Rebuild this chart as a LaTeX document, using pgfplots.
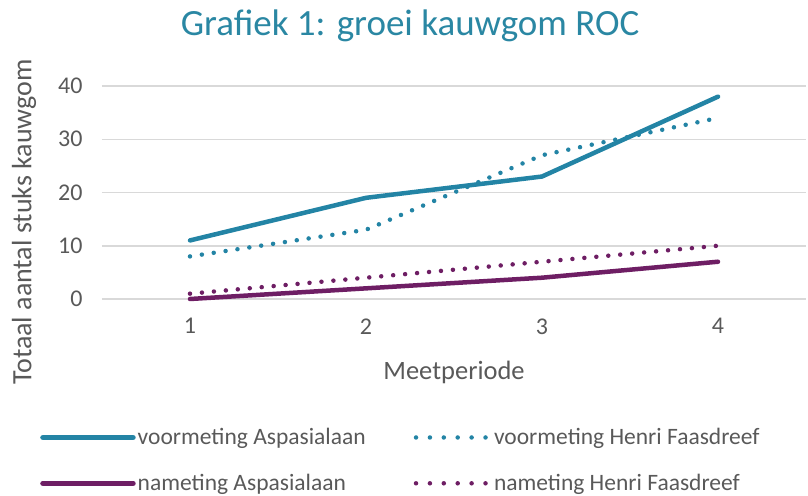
\documentclass[border=0pt]{standalone}
\usepackage{pgfplots}
\pgfplotsset{compat=1.18}
\usepackage{fontspec}
\setmainfont{Carlito}
\definecolor{teal1}{RGB}{35,132,165}
\definecolor{titlec}{RGB}{42,135,163}
\definecolor{purp}{RGB}{110,30,100}
\definecolor{txt}{RGB}{89,89,89}
\definecolor{gridc}{RGB}{217,217,217}
\pgfplotsset{
  solidleg/.style={legend image code/.code={\draw[##1, line width=5.5pt] (0pt,0pt) -- (90pt,0pt);}},
  dotleg/.style={legend image code/.code={\draw[##1, dash pattern=on 0pt off 13.9pt] (0pt,0pt) -- (70pt,0pt); \path[draw=none, fill=none] (0pt,0pt) rectangle (76pt,0.1pt);}},
}
\begin{document}
\begin{tikzpicture}
\begin{axis}[
  scale only axis,
  width=704pt, height=213pt,
  xmin=0.5, xmax=4.5, ymin=0, ymax=40,
  xtick={1,2,3,4}, ytick={0,10,20,30,40},
  major tick length=0pt,
  axis line style={draw=none},
  ymajorgrids, xmajorgrids=false, grid style={color=gridc, line width=1.5pt},
  clip=false,
  /pgf/number format/assume math mode=true,
  ticklabel style={font=\fontsize{24}{28}\selectfont, text=txt},
  yticklabel style={xshift=-16pt},
  xticklabel style={yshift=-16pt},
  title={Grafiek 1: groei kauwgom ROC},
  title style={font=\fontsize{37}{44}\selectfont, text=titlec, at={(axis description cs:0.4375,1.2066)}, anchor=base},
  xlabel={Meetperiode},
  xlabel style={font=\fontsize{26.5}{32}\selectfont, text=txt, at={(axis description cs:0.5,0)}, yshift=-73pt, anchor=center},
  ylabel={Totaal aantal stuks kauwgom},
  ylabel style={font=\fontsize{28}{33}\selectfont, text=txt, at={(axis description cs:-0.1108,0.3615)}, rotate=0, anchor=center},
  legend columns=2,
  legend cell align=left,
  legend style={draw=none, fill=none, inner sep=0pt, font=\fontsize{23.5}{28}\selectfont, text=txt,
    at={(axis description cs:-0.088,-0.598)}, anchor=north west,
    nodes={inner sep=2pt},
    /tikz/every even column/.append style={column sep=46pt},
    row sep=24pt},
]
\addplot[teal1, line width=4.5pt, line join=round, line cap=round, solidleg]
  coordinates {(1,11) (2,19) (3,23) (4,38)};
\addlegendentry{voormeting Aspasialaan}
\addplot[teal1, line width=4.5pt, line cap=round, dash pattern=on 0pt off 12pt, dotleg]
  coordinates {(1,8) (2,13) (3,27) (4,34)};
\addlegendentry{voormeting Henri Faasdreef}
\addplot[purp, line width=4.5pt, line join=round, line cap=round, solidleg]
  coordinates {(1,0) (2,2) (3,4) (4,7)};
\addlegendentry{nameting Aspasialaan}
\addplot[purp, line width=4.5pt, line cap=round, dash pattern=on 0pt off 12pt, dotleg]
  coordinates {(1,1) (2,4) (3,7) (4,10)};
\addlegendentry{nameting Henri Faasdreef}
\end{axis}
\pgfresetboundingbox
\useasboundingbox (-102pt,-196pt) rectangle (706pt,299pt);
\end{tikzpicture}
\end{document}
